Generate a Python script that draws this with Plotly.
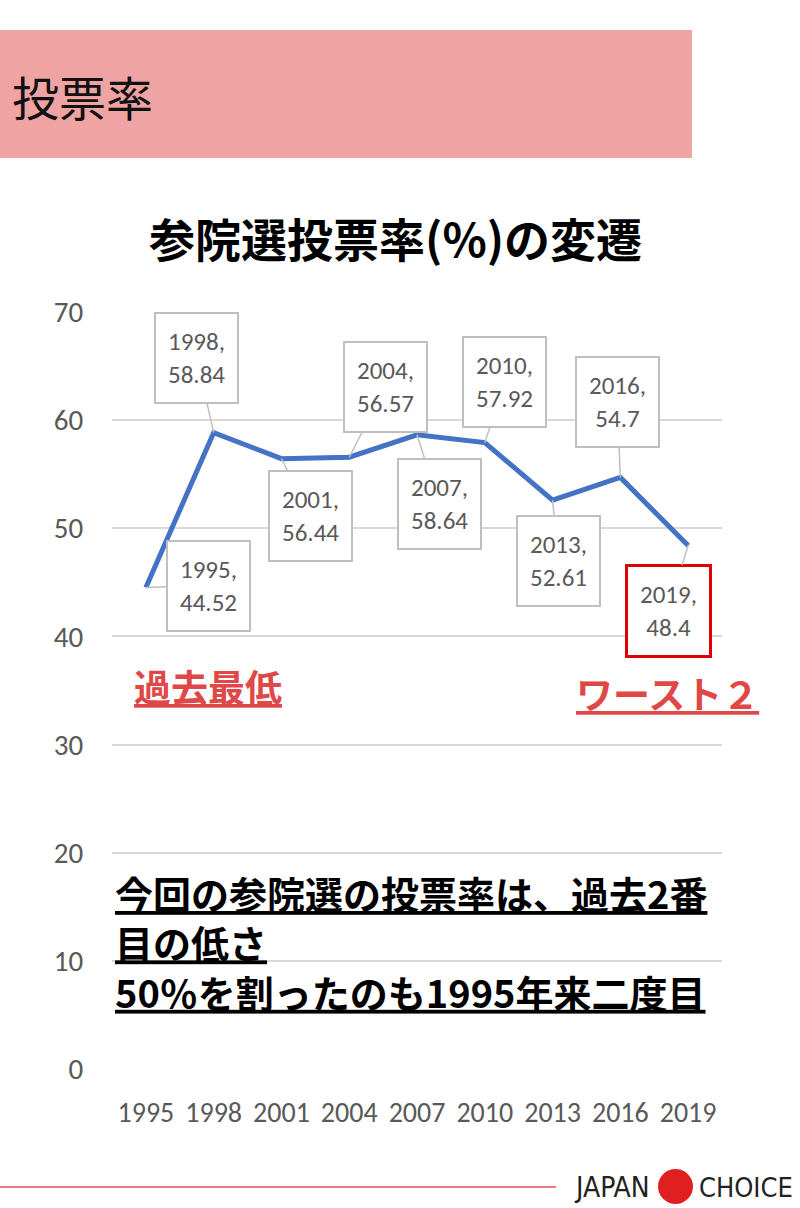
import plotly.graph_objects as go

years = ["1995", "1998", "2001", "2004", "2007", "2010", "2013", "2016", "2019"]
turnout = [44.52, 58.84, 56.44, 56.57, 58.64, 57.92, 52.61, 54.7, 48.4]
y_ticks = [0, 10, 20, 30, 40, 50, 60, 70]

# label box offsets (pixels) relative to each point
label_dx = [63, -17, 29, 36, 22, 20, 6, -3, -20]
label_dy = [-2, -75, 57, -70, 69, -61, 61, -75, 65]

W, H = 800, 1208
L, R, T, B = 112, 78, 312, 139
PW, PH = W - L - R, H - T - B

def px(x):
    return (x - L) / PW

def py(y):
    return (H - B - y) / PH

JP = "Noto Sans CJK JP"
GRAY = "#595959"
RED = "#E04848"
NUM_FONT = "Carlito, Lato, sans-serif"

fig = go.Figure()
fig.add_trace(go.Scatter(
    x=years, y=turnout, mode="lines",
    line=dict(color="#4472C4", width=5),
    hoverinfo="skip", showlegend=False,
))

annotations = []
for i, (yr, v) in enumerate(zip(years, turnout)):
    is_last = i == len(years) - 1
    annotations.append(dict(
        x=i, y=v, xref="x", yref="y",
        text=f"{yr},<br>{v:g}",
        showarrow=True, arrowhead=0, arrowwidth=1.5, arrowcolor="#BFBFBF",
        ax=label_dx[i], ay=label_dy[i], axref="pixel", ayref="pixel",
        standoff=0, startstandoff=0,
        bgcolor="white",
        bordercolor="#E00000" if is_last else "#BFBFBF",
        borderwidth=3 if is_last else 2,
        borderpad=12,
        font=dict(family=NUM_FONT, size=25, color=GRAY),
        align="center",
    ))

# title
annotations.append(dict(
    x=px(395), y=py(237), xref="paper", yref="paper", showarrow=False,
    text="<b>参院選投票率(%)の変遷</b>",
    font=dict(family=JP, size=46, color="black"),
    xanchor="center", yanchor="middle",
))
# header text
annotations.append(dict(
    x=px(10), y=py(95), xref="paper", yref="paper", showarrow=False,
    text="投票率",
    font=dict(family=JP, size=47, color="#111111"),
    xanchor="left", yanchor="middle",
))
# red notes
annotations.append(dict(
    x=px(208), y=py(686), xref="paper", yref="paper", showarrow=False,
    text="<b><u>過去最低</u></b>",
    font=dict(family=JP, size=37, color=RED),
    xanchor="center", yanchor="middle",
))
annotations.append(dict(
    x=px(667), y=py(693), xref="paper", yref="paper", showarrow=False,
    text="<b><u>ワースト２</u></b>",
    font=dict(family=JP, size=37, color=RED),
    xanchor="center", yanchor="middle",
))
# black comment block
annotations.append(dict(
    x=px(113), y=py(942), xref="paper", yref="paper", showarrow=False,
    text="<b><u>今回の参院選の投票率は、過去2番</u><br><u>目の低さ</u><br><u>50％を割ったのも1995年来二度目</u></b>",
    font=dict(family=JP, size=38, color="black"),
    xanchor="left", yanchor="middle", align="left",
))
# footer logo
LOGO_FONT = "DejaVu Sans Condensed, Liberation Sans Narrow, sans-serif"
annotations.append(dict(
    x=px(652), y=py(1187), xref="paper", yref="paper", showarrow=False,
    text="JAPAN",
    font=dict(family=LOGO_FONT, size=28, color="#222222"),
    xanchor="right", yanchor="middle",
))
annotations.append(dict(
    x=px(697), y=py(1187), xref="paper", yref="paper", showarrow=False,
    text="CHOICE",
    font=dict(family=LOGO_FONT, size=27, color="#222222"),
    xanchor="left", yanchor="middle",
))

shapes = [
    dict(type="rect", xref="paper", yref="paper",
         x0=px(0), x1=px(692), y0=py(30), y1=py(158),
         fillcolor="#EFA3A3", line=dict(width=0), layer="below"),
    dict(type="line", xref="paper", yref="paper",
         x0=px(0), x1=px(556), y0=py(1187), y1=py(1187),
         line=dict(color="#E05050", width=1.5)),
    dict(type="circle", xref="paper", yref="paper",
         x0=px(658), x1=px(693), y0=py(1169), y1=py(1204),
         fillcolor="#E02020", line=dict(width=0)),
]

fig.update_layout(
    width=W, height=H,
    margin=dict(l=L, r=R, t=T, b=B, pad=0),
    paper_bgcolor="white", plot_bgcolor="white",
    annotations=annotations, shapes=shapes,
    xaxis=dict(
        type="category", categoryorder="array", categoryarray=years,
        range=[-0.5, len(years) - 0.5], autorange=False,
        showgrid=False, zeroline=False, showline=False,
        ticks="outside", ticklen=18, tickcolor="rgba(0,0,0,0)",
        tickfont=dict(family=NUM_FONT, size=28, color=GRAY),
        fixedrange=True,
    ),
    yaxis=dict(
        range=[0, 70], autorange=False, tickvals=y_ticks,
        showgrid=True, gridcolor="#D9D9D9", gridwidth=2,
        zeroline=False, showline=False,
        ticks="outside", ticklen=22, tickcolor="rgba(0,0,0,0)",
        tickfont=dict(family=NUM_FONT, size=29, color=GRAY),
        fixedrange=True,
    ),
    showlegend=False,
)

fig.write_html("out.html")
